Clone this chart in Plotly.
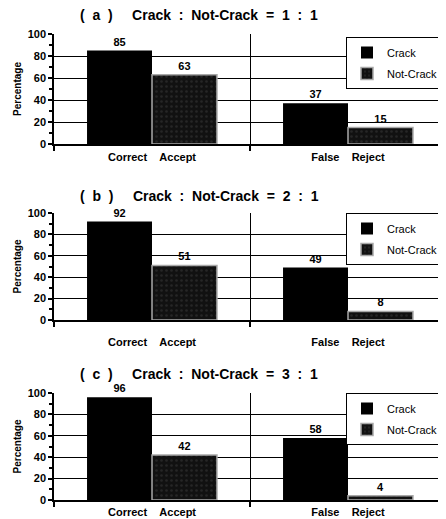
import plotly.graph_objects as go
from plotly.subplots import make_subplots

categories = ["Correct    Accept", "False    Reject"]
series_names = ["Crack", "Not-Crack"]
crack_a = [85, 37]
notcrack_a = [63, 15]
crack_b = [92, 49]
notcrack_b = [51, 8]
crack_c = [96, 58]
notcrack_c = [42, 4]
titles = ["(  a  )     Crack  :  Not-Crack  =  1  :  1",
          "(  b  )     Crack  :  Not-Crack  =  2  :  1",
          "(  c  )     Crack  :  Not-Crack  =  3  :  1"]
y_ticks = [0, 20, 40, 60, 80, 100]

# page body has an 8px margin; work in screenshot pixels and convert
OFF = 8
W, H = 446 - OFF, 519 - OFF
L_REF = 54
L = L_REF - OFF
FONT = "Arial, Liberation Sans, Helvetica, sans-serif"
NB = "\u00a0"

def py(ref_y):
    return 1 - (ref_y - OFF) / H

def pxx(ref_x):
    return (ref_x - L_REF) / (W - L)

def spaced(s):
    return s.replace(" ", NB)

# (plot top, plot bottom), legend top, title (x, y), tick label standoff
panels = [
    (crack_a, notcrack_a, (34, 144), 37, (199, 15), 2),
    (crack_b, notcrack_b, (213, 320), 213, (199, 196), 11),
    (crack_c, notcrack_c, (393, 500), 393, (199, 374), 1),
]

fig = make_subplots(rows=3, cols=1)
legend_names = ["legend", "legend2", "legend3"]
annotations = []
layout_upd = {}
for i, (cr, nc, (ytop, ybot), legtop, (tx, ty), tls) in enumerate(panels):
    r = i + 1
    lg = legend_names[i]
    xs = [spaced(c) for c in categories]
    fig.add_trace(go.Bar(
        x=xs, y=cr, name=series_names[0], legend=lg, legendgroup=f"c{r}",
        marker=dict(color="black", line=dict(width=0)),
        text=cr, textposition="outside", cliponaxis=False,
        textfont=dict(family=FONT, size=11, color="black", weight="bold"),
    ), row=r, col=1)
    fig.add_trace(go.Bar(
        x=xs, y=nc, name=series_names[1], legend=lg, legendgroup=f"n{r}",
        marker=dict(color="#111111", line=dict(width=1.5, color="#a8a8a8"),
                    pattern=dict(shape=".", fgcolor="#3c3c3c", size=5, solidity=0.2)),
        text=nc, textposition="outside", cliponaxis=False,
        textfont=dict(family=FONT, size=11, color="black", weight="bold"),
    ), row=r, col=1)
    xa = "xaxis" if r == 1 else f"xaxis{r}"
    ya = "yaxis" if r == 1 else f"yaxis{r}"
    layout_upd[xa] = dict(domain=[0, 1], range=[-0.5, 1.5], tickson="boundaries",
                          ticks="outside", ticklen=5, tickwidth=1.5, tickcolor="black",
                          ticklabelstandoff=tls,
                          showgrid=True, gridcolor="black", gridwidth=1.3,
                          showline=True, linecolor="black", linewidth=1.5,
                          tickfont=dict(family=FONT, size=11, color="black", weight="bold"),
                          automargin=False, fixedrange=True)
    layout_upd[ya] = dict(domain=[py(ybot), py(ytop)], range=[0, 100], tickvals=y_ticks,
                          ticks="outside", ticklen=4, tickwidth=1.5, tickcolor="black",
                          minor=dict(dtick=10, ticks="outside", ticklen=3, tickcolor="black", showgrid=False),
                          showgrid=True, gridcolor="black", gridwidth=1.3, zeroline=False,
                          showline=True, linecolor="black", linewidth=1.5,
                          tickfont=dict(family=FONT, size=11, color="black", weight="bold"),
                          title=dict(text="Percentage", standoff=4,
                                     font=dict(family=FONT, size=10, color="black", weight="bold")),
                          automargin=False, fixedrange=True)
    layout_upd[lg] = dict(x=pxx(346), y=py(legtop), xanchor="left", yanchor="top",
                          bgcolor="white", bordercolor="black", borderwidth=1,
                          font=dict(family=FONT, size=11, color="black"),
                          itemwidth=30, tracegroupgap=2, traceorder="grouped")
    annotations.append(dict(text=spaced(titles[i]), x=pxx(tx), y=py(ty), xref="paper", yref="paper",
                            showarrow=False, xanchor="center", yanchor="middle",
                            font=dict(family=FONT, size=14, color="black", weight="bold")))

fig.update_layout(**layout_upd)
fig.update_layout(width=W, height=H, margin=dict(l=L, r=0, t=0, b=0, autoexpand=False),
                  paper_bgcolor="white", plot_bgcolor="white",
                  barmode="group", bargap=0.337, bargroupgap=0,
                  annotations=annotations, showlegend=True,
                  font=dict(family=FONT, color="black"))
fig.write_html("out.html")
